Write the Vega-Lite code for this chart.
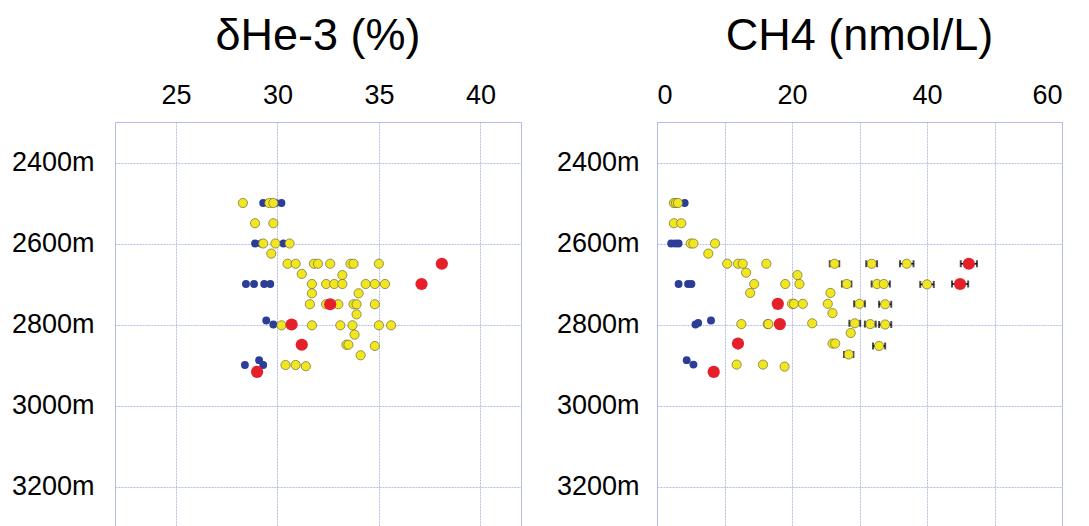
{
  "$schema": "https://vega.github.io/schema/vega-lite/v6.json",
  "padding": {"left": 10, "top": 13, "right": 5, "bottom": 0},
  "background": "white",
  "spacing": 33,
  "config": {
    "font": "Liberation Sans",
    "view": {"stroke": "#b4bcec", "strokeWidth": 1},
    "axis": {
      "ticks": false, "domain": false, "grid": true,
      "gridColor": "#b4bcec", "gridDash": [2, 1], "gridWidth": 1,
      "labelFontSize": 27, "labelColor": "black", "labelFont": "Liberation Sans",
      "title": null
    },
    "axisY": {"labelPadding": 21},
    "axisX": {"labelPadding": 13},
    "title": {"fontSize": 45, "fontWeight": "normal", "color": "black", "font": "Liberation Sans", "offset": 22}
  },
  "datasets": {
    "he": [
      {"depth": 2500, "v": 29.3, "type": "blue"},
      {"depth": 2500, "v": 29.9, "type": "blue"},
      {"depth": 2500, "v": 30.2, "type": "blue"},
      {"depth": 2600, "v": 28.9, "type": "blue"},
      {"depth": 2600, "v": 29.2, "type": "blue"},
      {"depth": 2600, "v": 30.3, "type": "blue"},
      {"depth": 2700, "v": 28.45, "type": "blue"},
      {"depth": 2700, "v": 28.85, "type": "blue"},
      {"depth": 2700, "v": 29.35, "type": "blue"},
      {"depth": 2700, "v": 29.65, "type": "blue"},
      {"depth": 2790, "v": 29.45, "type": "blue"},
      {"depth": 2800, "v": 29.8, "type": "blue"},
      {"depth": 2888, "v": 29.1, "type": "blue"},
      {"depth": 2900, "v": 28.4, "type": "blue"},
      {"depth": 2900, "v": 29.3, "type": "blue"},
      {"depth": 2500, "v": 28.3, "type": "yellow"},
      {"depth": 2500, "v": 29.6, "type": "yellow"},
      {"depth": 2500, "v": 29.8, "type": "yellow"},
      {"depth": 2550, "v": 28.9, "type": "yellow"},
      {"depth": 2550, "v": 29.8, "type": "yellow"},
      {"depth": 2600, "v": 29.3, "type": "yellow"},
      {"depth": 2600, "v": 29.9, "type": "yellow"},
      {"depth": 2600, "v": 30.6, "type": "yellow"},
      {"depth": 2625, "v": 29.7, "type": "yellow"},
      {"depth": 2650, "v": 30.5, "type": "yellow"},
      {"depth": 2650, "v": 30.9, "type": "yellow"},
      {"depth": 2650, "v": 31.8, "type": "yellow"},
      {"depth": 2650, "v": 32.0, "type": "yellow"},
      {"depth": 2650, "v": 32.6, "type": "yellow"},
      {"depth": 2650, "v": 33.6, "type": "yellow"},
      {"depth": 2650, "v": 33.75, "type": "yellow"},
      {"depth": 2650, "v": 35.0, "type": "yellow"},
      {"depth": 2675, "v": 31.2, "type": "yellow"},
      {"depth": 2678, "v": 33.2, "type": "yellow"},
      {"depth": 2700, "v": 31.7, "type": "yellow"},
      {"depth": 2700, "v": 32.4, "type": "yellow"},
      {"depth": 2700, "v": 32.8, "type": "yellow"},
      {"depth": 2700, "v": 33.2, "type": "yellow"},
      {"depth": 2700, "v": 34.35, "type": "yellow"},
      {"depth": 2700, "v": 34.8, "type": "yellow"},
      {"depth": 2700, "v": 35.3, "type": "yellow"},
      {"depth": 2723, "v": 31.7, "type": "yellow"},
      {"depth": 2723, "v": 34.0, "type": "yellow"},
      {"depth": 2750, "v": 31.6, "type": "yellow"},
      {"depth": 2750, "v": 32.4, "type": "yellow"},
      {"depth": 2750, "v": 33.0, "type": "yellow"},
      {"depth": 2750, "v": 33.75, "type": "yellow"},
      {"depth": 2750, "v": 33.9, "type": "yellow"},
      {"depth": 2750, "v": 34.8, "type": "yellow"},
      {"depth": 2775, "v": 33.9, "type": "yellow"},
      {"depth": 2802, "v": 30.2, "type": "yellow"},
      {"depth": 2802, "v": 31.7, "type": "yellow"},
      {"depth": 2802, "v": 33.1, "type": "yellow"},
      {"depth": 2802, "v": 33.7, "type": "yellow"},
      {"depth": 2802, "v": 35.0, "type": "yellow"},
      {"depth": 2802, "v": 35.6, "type": "yellow"},
      {"depth": 2825, "v": 33.8, "type": "yellow"},
      {"depth": 2850, "v": 33.4, "type": "yellow"},
      {"depth": 2850, "v": 33.5, "type": "yellow"},
      {"depth": 2853, "v": 34.8, "type": "yellow"},
      {"depth": 2876, "v": 34.1, "type": "yellow"},
      {"depth": 2900, "v": 30.4, "type": "yellow"},
      {"depth": 2900, "v": 30.9, "type": "yellow"},
      {"depth": 2903, "v": 31.4, "type": "yellow"},
      {"depth": 2650, "v": 38.1, "type": "red"},
      {"depth": 2700, "v": 37.1, "type": "red"},
      {"depth": 2750, "v": 32.6, "type": "red"},
      {"depth": 2800, "v": 30.7, "type": "red"},
      {"depth": 2850, "v": 31.2, "type": "red"},
      {"depth": 2917, "v": 29.0, "type": "red"}
    ],
    "ch4": [
      {"depth": 2500, "v": 4.1, "type": "blue"},
      {"depth": 2600, "v": 2.1, "type": "blue"},
      {"depth": 2600, "v": 2.7, "type": "blue"},
      {"depth": 2600, "v": 3.2, "type": "blue"},
      {"depth": 2700, "v": 3.2, "type": "blue"},
      {"depth": 2700, "v": 4.6, "type": "blue"},
      {"depth": 2700, "v": 5.1, "type": "blue"},
      {"depth": 2800, "v": 5.7, "type": "blue"},
      {"depth": 2796, "v": 6.1, "type": "blue"},
      {"depth": 2790, "v": 8.0, "type": "blue"},
      {"depth": 2888, "v": 4.4, "type": "blue"},
      {"depth": 2899, "v": 5.4, "type": "blue"},
      {"depth": 2500, "v": 2.5, "type": "yellow"},
      {"depth": 2500, "v": 2.8, "type": "yellow"},
      {"depth": 2500, "v": 3.1, "type": "yellow"},
      {"depth": 2550, "v": 2.5, "type": "yellow"},
      {"depth": 2550, "v": 3.6, "type": "yellow"},
      {"depth": 2600, "v": 5.0, "type": "yellow"},
      {"depth": 2600, "v": 5.4, "type": "yellow"},
      {"depth": 2600, "v": 8.6, "type": "yellow"},
      {"depth": 2625, "v": 7.6, "type": "yellow"},
      {"depth": 2650, "v": 10.4, "type": "yellow"},
      {"depth": 2650, "v": 12.0, "type": "yellow"},
      {"depth": 2650, "v": 12.7, "type": "yellow"},
      {"depth": 2650, "v": 16.2, "type": "yellow"},
      {"depth": 2650, "v": 26.3, "type": "yellow"},
      {"depth": 2650, "v": 31.8, "type": "yellow"},
      {"depth": 2650, "v": 37.0, "type": "yellow"},
      {"depth": 2672, "v": 13.2, "type": "yellow"},
      {"depth": 2678, "v": 20.8, "type": "yellow"},
      {"depth": 2700, "v": 14.4, "type": "yellow"},
      {"depth": 2700, "v": 19.0, "type": "yellow"},
      {"depth": 2700, "v": 21.1, "type": "yellow"},
      {"depth": 2700, "v": 28.1, "type": "yellow"},
      {"depth": 2700, "v": 32.6, "type": "yellow"},
      {"depth": 2700, "v": 33.6, "type": "yellow"},
      {"depth": 2701, "v": 40.0, "type": "yellow"},
      {"depth": 2722, "v": 13.8, "type": "yellow"},
      {"depth": 2722, "v": 25.7, "type": "yellow"},
      {"depth": 2749, "v": 20.0, "type": "yellow"},
      {"depth": 2749, "v": 20.3, "type": "yellow"},
      {"depth": 2749, "v": 21.6, "type": "yellow"},
      {"depth": 2749, "v": 25.3, "type": "yellow"},
      {"depth": 2749, "v": 30.0, "type": "yellow"},
      {"depth": 2750, "v": 33.8, "type": "yellow"},
      {"depth": 2772, "v": 26.0, "type": "yellow"},
      {"depth": 2799, "v": 12.5, "type": "yellow"},
      {"depth": 2799, "v": 16.4, "type": "yellow"},
      {"depth": 2799, "v": 16.5, "type": "yellow"},
      {"depth": 2797, "v": 23.0, "type": "yellow"},
      {"depth": 2797, "v": 29.3, "type": "yellow"},
      {"depth": 2799, "v": 31.6, "type": "yellow"},
      {"depth": 2800, "v": 33.8, "type": "yellow"},
      {"depth": 2821, "v": 28.7, "type": "yellow"},
      {"depth": 2847, "v": 26.0, "type": "yellow"},
      {"depth": 2847, "v": 26.4, "type": "yellow"},
      {"depth": 2853, "v": 32.9, "type": "yellow"},
      {"depth": 2874, "v": 28.4, "type": "yellow"},
      {"depth": 2899, "v": 11.8, "type": "yellow"},
      {"depth": 2899, "v": 15.7, "type": "yellow"},
      {"depth": 2904, "v": 18.9, "type": "yellow"},
      {"depth": 2650, "v": 46.2, "type": "red"},
      {"depth": 2700, "v": 44.9, "type": "red"},
      {"depth": 2749, "v": 17.9, "type": "red"},
      {"depth": 2799, "v": 18.2, "type": "red"},
      {"depth": 2847, "v": 12.0, "type": "red"},
      {"depth": 2917, "v": 8.4, "type": "red"}
    ],
    "ch4err": [
      {"depth": 2650, "lo": 25.6, "hi": 27.0},
      {"depth": 2650, "lo": 31.0, "hi": 32.6},
      {"depth": 2650, "lo": 36.0, "hi": 38.0},
      {"depth": 2650, "lo": 45.0, "hi": 47.4},
      {"depth": 2700, "lo": 27.4, "hi": 28.8},
      {"depth": 2700, "lo": 31.8, "hi": 33.4},
      {"depth": 2700, "lo": 32.7, "hi": 34.5},
      {"depth": 2701, "lo": 39.0, "hi": 41.0},
      {"depth": 2700, "lo": 43.7, "hi": 46.1},
      {"depth": 2749, "lo": 29.2, "hi": 30.8},
      {"depth": 2750, "lo": 32.9, "hi": 34.7},
      {"depth": 2797, "lo": 28.5, "hi": 30.1},
      {"depth": 2799, "lo": 30.8, "hi": 32.4},
      {"depth": 2800, "lo": 32.9, "hi": 34.7},
      {"depth": 2853, "lo": 32.0, "hi": 33.8},
      {"depth": 2874, "lo": 27.7, "hi": 29.1}
    ]
  },
  "hconcat": [
    {
      "width": 406,
      "height": 405,
      "title": {"text": "δHe-3 (%)"},
      "data": {"name": "he"},
      "encoding": {
        "x": {"field": "v", "type": "quantitative",
              "scale": {"domain": [22, 42], "nice": false, "zero": false},
              "axis": {"orient": "top", "values": [25, 30, 35, 40]}},
        "y": {"field": "depth", "type": "quantitative",
              "scale": {"domain": [2300, 3300], "reverse": true, "nice": false, "zero": false},
              "axis": {"values": [2400, 2600, 2800, 3000, 3200], "labelExpr": "format(datum.value, 'd') + 'm'"}}
      },
      "layer": [
        {"transform": [{"filter": "datum.type === 'blue'"}],
         "mark": {"type": "point", "filled": true, "shape": "circle", "size": 62, "color": "#2c3d98", "opacity": 1}},
        {"transform": [{"filter": "datum.type === 'yellow'"}],
         "mark": {"type": "point", "filled": true, "shape": "circle", "size": 85, "fill": "#f2e620", "stroke": "#6a6a3a", "strokeWidth": 0.7, "opacity": 1}},
        {"transform": [{"filter": "datum.type === 'red'"}],
         "mark": {"type": "point", "filled": true, "shape": "circle", "size": 150, "color": "#e6202a", "opacity": 1}}
      ]
    },
    {
      "width": 405,
      "height": 405,
      "title": {"text": "CH4 (nmol/L)"},
      "layer": [
        {
          "data": {"name": "ch4err"},
          "mark": {"type": "rule", "color": "black", "strokeWidth": 1.5},
          "encoding": {
            "x": {"field": "lo", "type": "quantitative",
                  "scale": {"domain": [0, 60], "nice": false, "zero": false},
                  "axis": {"orient": "top", "values": [0, 10, 20, 30, 40, 50, 60], "labelExpr": "datum.value % 20 === 0 ? datum.label : ''"}},
            "x2": {"field": "hi"},
            "y": {"field": "depth", "type": "quantitative",
                  "scale": {"domain": [2300, 3300], "reverse": true, "nice": false, "zero": false},
                  "axis": {"values": [2400, 2600, 2800, 3000, 3200], "labelPadding": 18, "labelExpr": "format(datum.value, 'd') + 'm'"}}
          }
        },
        {
          "data": {"name": "ch4err"},
          "mark": {"type": "tick", "color": "black", "orient": "vertical", "size": 7, "thickness": 2},
          "encoding": {
            "x": {"field": "lo", "type": "quantitative"},
            "y": {"field": "depth", "type": "quantitative"}
          }
        },
        {
          "data": {"name": "ch4err"},
          "mark": {"type": "tick", "color": "black", "orient": "vertical", "size": 7, "thickness": 2},
          "encoding": {
            "x": {"field": "hi", "type": "quantitative"},
            "y": {"field": "depth", "type": "quantitative"}
          }
        },
        {
          "data": {"name": "ch4"},
          "transform": [{"filter": "datum.type === 'blue'"}],
          "mark": {"type": "point", "filled": true, "shape": "circle", "size": 62, "color": "#2c3d98", "opacity": 1},
          "encoding": {
            "x": {"field": "v", "type": "quantitative"},
            "y": {"field": "depth", "type": "quantitative"}
          }
        },
        {
          "data": {"name": "ch4"},
          "transform": [{"filter": "datum.type === 'yellow'"}],
          "mark": {"type": "point", "filled": true, "shape": "circle", "size": 85, "fill": "#f2e620", "stroke": "#6a6a3a", "strokeWidth": 0.7, "opacity": 1},
          "encoding": {
            "x": {"field": "v", "type": "quantitative"},
            "y": {"field": "depth", "type": "quantitative"}
          }
        },
        {
          "data": {"name": "ch4"},
          "transform": [{"filter": "datum.type === 'red'"}],
          "mark": {"type": "point", "filled": true, "shape": "circle", "size": 150, "color": "#e6202a", "opacity": 1},
          "encoding": {
            "x": {"field": "v", "type": "quantitative"},
            "y": {"field": "depth", "type": "quantitative"}
          }
        }
      ]
    }
  ]
}
